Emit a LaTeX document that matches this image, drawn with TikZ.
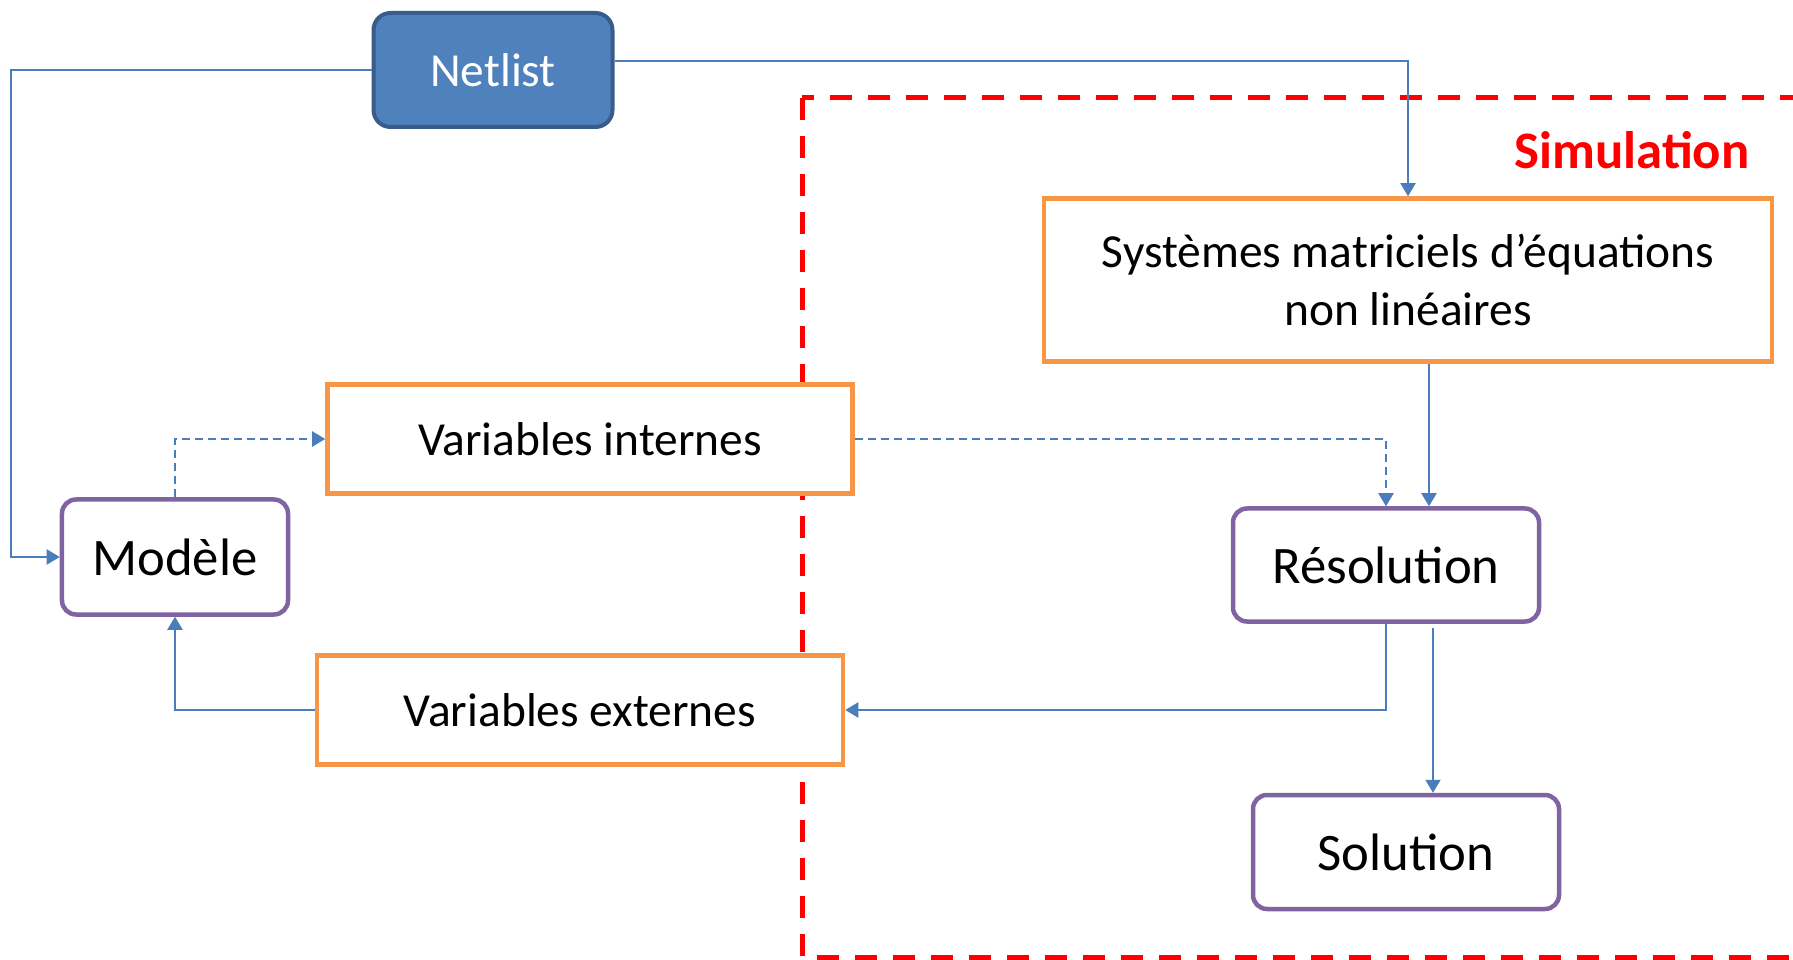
\documentclass[tikz,border=0pt]{standalone}
\usepackage{fontspec}
\setmainfont{Carlito}
\usetikzlibrary{arrows.meta}

\definecolor{netblue}{HTML}{4F81BD}
\definecolor{netborder}{HTML}{385D8A}
\definecolor{linkblue}{HTML}{4A7EBB}
\definecolor{boxorange}{HTML}{F79646}
\definecolor{boxpurple}{HTML}{8064A2}

\tikzset{
  orangebox/.style={draw=boxorange, line width=0.9mm, fill=white, inner sep=0pt,
    font=\fontsize{27}{32.5}\selectfont, align=center},
  purplebox/.style={draw=boxpurple, line width=0.9mm, fill=white, inner sep=0pt,
    rounded corners=2.8mm, font=\fontsize{30}{36}\selectfont},
  flow/.style={draw=linkblue, line width=0.4mm, -{Triangle[length=2.6mm,width=3mm]}},
  dflow/.style={flow, dash pattern=on 1.6mm off 1mm},
  simframe/.style={draw=red, line width=1mm, dash pattern=on 4.4mm off 3.2mm},
}

\begin{document}
\begin{tikzpicture}[x=0.2mm, y=-0.2mm]
  \useasboundingbox (0,0) rectangle (1793,960);
  \clip (0,0) rectangle (1793,960);

  % Simulation frame, cut by the page on the right and at the bottom
  \draw[simframe] (802,98) rectangle (1830,957);
  \node[text=red, font=\fontsize{30}{36}\selectfont\bfseries] (simlabel) at (1632,150) {Simulation};

  % Boxes
  \node[draw=netborder, fill=netblue, line width=0.8mm, rounded corners=3.4mm, inner sep=0pt,
    minimum width=47.8mm, minimum height=22.8mm, text=white,
    font=\fontsize{27}{32.5}\selectfont] (netlist) at (493,70) {Netlist};
  \node[orangebox, minimum width=145.6mm, minimum height=32.6mm] (sys) at (1408,280)
    {Systèmes matriciels d’équations\\non linéaires};
  \node[orangebox, minimum width=105mm, minimum height=21.8mm] (vint) at (590,439) {Variables internes};
  \node[orangebox, minimum width=105.2mm, minimum height=21.8mm] (vext) at (580,710) {Variables externes};
  \node[purplebox, minimum width=45.2mm, minimum height=23mm] (modele) at (175,557) {Modèle};
  \node[purplebox, minimum width=61.2mm, minimum height=22.6mm] (res) at (1386,565) {Résolution};
  \node[purplebox, minimum width=61.2mm, minimum height=22.8mm] (sol) at (1406,852) {Solution};

  % Bend and offset points
  \coordinate (nl) at (11,70);
  \coordinate (nr) at (615,61);
  \coordinate (sysout) at (1429,364);
  \coordinate (resout) at (1433,628);

  % Connectors
  \draw[flow] (netlist.west) -- (nl) |- (modele.west);
  \draw[flow] (nr) -| (sys.north);
  \draw[dflow] (modele.north) |- (vint.west);
  \draw[dflow] (vint.east) -| (res.north);
  \draw[flow] (sysout) -- (sysout |- res.north);
  \draw[flow] (res.south) |- (vext.east);
  \draw[flow] (resout) -- (resout |- sol.north);
  \draw[flow] (vext.west) -| (modele.south);
\end{tikzpicture}
\end{document}
